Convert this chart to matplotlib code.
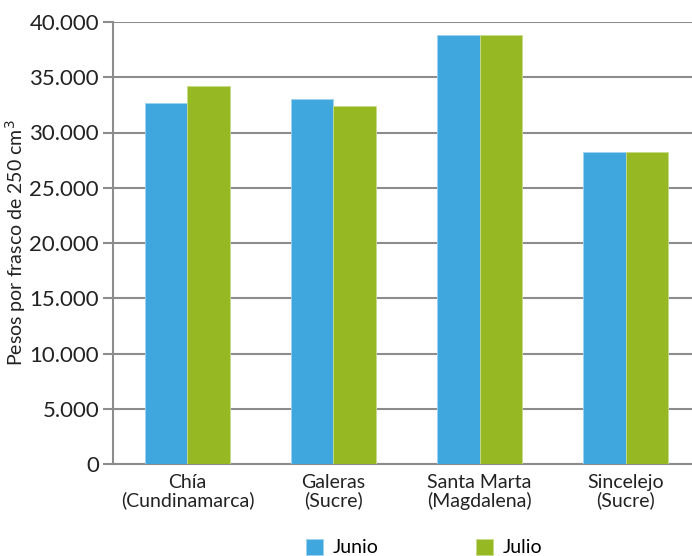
import matplotlib.pyplot as plt
import numpy as np

# Precios por frasco de 250 cm3 (pesos)
ciudades = ["Chía\n(Cundinamarca)", "Galeras\n(Sucre)", "Santa Marta\n(Magdalena)", "Sincelejo\n(Sucre)"]
junio = [32700, 33000, 38800, 28200]
julio = [34200, 32400, 38800, 28200]
yticks = [0, 5000, 10000, 15000, 20000, 25000, 30000, 35000, 40000]
ytick_labels = ["0", "5.000", "10.000", "15.000", "20.000", "25.000", "30.000", "35.000", "40.000"]

azul = "#3FA7DE"
verde = "#95B823"
gris = "#8C8C8C"

plt.rcParams['font.family'] = ['Lato', 'DejaVu Sans']

fig = plt.figure(figsize=(6.92, 5.56), dpi=100)
ax = fig.add_axes([113 / 692, 1 - 464 / 556, (700 - 113) / 692, 442 / 556])

x = np.arange(len(ciudades))
w = 0.29
ax.bar(x - w / 2, junio, w, color=azul, edgecolor="#9fd3ef", linewidth=0.6, label="Junio", zorder=3)
ax.bar(x + w / 2, julio, w, color=verde, edgecolor="#c8dc8a", linewidth=0.6, label="Julio", zorder=3)

ax.set_xlim(-0.51, 3.51)
ax.set_ylim(0, 40000)
ax.set_yticks(yticks)
ax.set_yticklabels(ytick_labels, fontsize=16, color="#222222")
ax.set_xticks(x)
ax.set_xticklabels(ciudades, fontsize=14, color="#222222", linespacing=1.05)
ax.tick_params(axis="x", length=0, pad=7)
ax.tick_params(axis="y", length=7, width=1.5, color=gris, pad=3)

ax.grid(axis="y", color=gris, linewidth=1.5, zorder=0)
for s in ["top", "right"]:
    ax.spines[s].set_visible(False)
for s in ["left", "bottom"]:
    ax.spines[s].set_color(gris)
    ax.spines[s].set_linewidth(1.5)

ax.set_ylabel("Pesos por frasco de 250 cm$^3$", fontsize=14, color="#222222")
ax.yaxis.set_label_coords(-0.145, 0.5)

fig.legend(loc="upper left", bbox_to_anchor=(294 / 692, 1 - 527 / 556), ncol=2,
           frameon=False, fontsize=14, handlelength=0.9, handleheight=0.9,
           columnspacing=5.0, handletextpad=0.5, borderaxespad=0.2)

fig.savefig("out.png", dpi=100)
